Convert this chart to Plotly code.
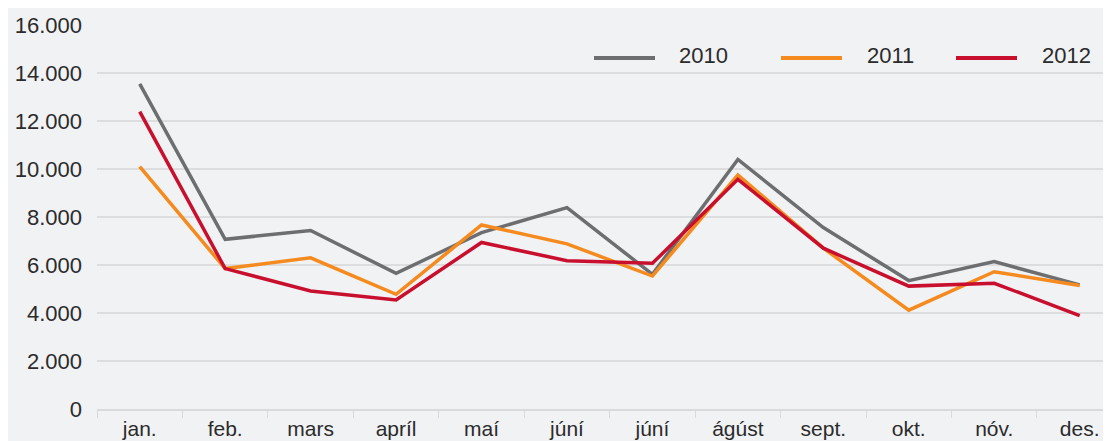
import plotly.graph_objects as go

months = ["jan.", "feb.", "mars", "apríl", "maí", "júní", "júní", "ágúst", "sept.", "okt.", "nóv.", "des."]
years = ["2010", "2011", "2012"]
v2010 = [13550, 7070, 7440, 5650, 7350, 8390, 5610, 10400, 7560, 5350, 6140, 5170]
v2011 = [10100, 5850, 6300, 4780, 7670, 6880, 5540, 9750, 6700, 4120, 5720, 5150]
v2012 = [12390, 5850, 4920, 4540, 6940, 6180, 6070, 9570, 6700, 5120, 5240, 3890]
yticks = [0, 2000, 4000, 6000, 8000, 10000, 12000, 14000, 16000]
colors = ["#6d6e70", "#f58a1f", "#c8102e"]
txt = "#2b2b2b"

OFF = 8  # page body margin
W, H = 1111 - OFF, 441 - OFF
L, R, T, B = 97 - OFF, 0, 25 - OFF, 32
PW, PH = W - L - R, H - T - B

def px(x):
    return (x - OFF - L) / PW

def py(y):
    return 1 - (y - OFF - T) / PH

xs = list(range(len(months)))
fig = go.Figure()
for name, vals, c in zip(years, [v2010, v2011, v2012], colors):
    fig.add_trace(go.Scatter(x=xs, y=vals, name=name, mode="lines",
                             line=dict(color=c, width=3.5), showlegend=False))

# manual legend
leg = [(594, 655, 677), (781, 842, 865), (956, 1017, 1040)]
for (x0, x1, tx), name, c in zip(leg, years, colors):
    fig.add_shape(type="line", xref="paper", yref="paper", x0=px(x0), x1=px(x1),
                  y0=py(58), y1=py(58), line=dict(color=c, width=4))
    fig.add_annotation(xref="paper", yref="paper", x=px(tx), y=py(56), text=name,
                       showarrow=False, xanchor="left", yanchor="middle",
                       font=dict(size=22, color=txt, family="Liberation Sans"))

fig.update_layout(
    width=W, height=H,
    margin=dict(l=L, r=R, t=T, b=B),
    paper_bgcolor="#f1f2f4", plot_bgcolor="#f1f2f4",
    separators=",.",
    font=dict(family="Liberation Sans", color=txt),
    xaxis=dict(range=[-0.5, -0.5 + PW / 85.45], tickvals=xs, ticktext=months,
               showgrid=False, zeroline=False, ticks="",
               showline=True, linecolor="#d9dadc", linewidth=2,
               tickfont=dict(size=21, color=txt),
               minor=dict(tick0=-0.5, dtick=1, ticks="outside", ticklen=7,
                          tickcolor="#d9dadc", tickwidth=1, showgrid=False)),
    yaxis=dict(range=[0, 16000], tickvals=yticks, tickformat=",d",
               showgrid=True, gridcolor="#dcdddf", gridwidth=2, zeroline=False,
               ticks="", ticklabelstandoff=14,
               tickfont=dict(size=22, color=txt)),
)
fig.write_html("out.html")
